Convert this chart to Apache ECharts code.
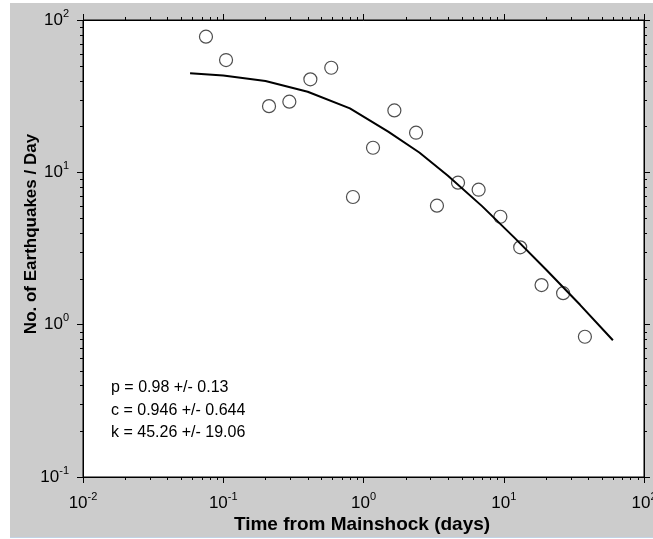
<!DOCTYPE html>
<html>
<head>
<meta charset="utf-8">
<script src="https://cdn.jsdelivr.net/npm/echarts@6/dist/echarts.min.js"></script>
<style>
html,body{margin:0;padding:0;background:#ffffff;}
#chart{width:653px;height:539px;}
</style>
</head>
<body>
<div id="chart"></div>
<script>
// Observed data (time in days, earthquakes per day)
const obsTime = [0.0753, 0.1047, 0.212, 0.296, 0.418, 0.589, 0.841, 1.169, 1.66, 2.37, 3.34, 4.72, 6.62, 9.46, 13.1, 18.6, 26.5, 37.9];
const obsRate = [77.7, 54.6, 27.2, 29.1, 40.8, 48.6, 6.89, 14.5, 25.5, 18.2, 6.04, 8.55, 7.69, 5.11, 3.22, 1.82, 1.61, 0.833];
// Fitted curve
const fitTime = [0.058, 0.1, 0.2, 0.4, 0.8, 1.5, 2.5, 4, 7, 12, 20, 35, 60];
const fitRate = [44.7, 43.2, 39.8, 33.8, 26.3, 18.5, 13.5, 9.5, 6.0, 3.7, 2.3, 1.35, 0.79];
// Tick labels
const xTickValues = [0.01, 0.1, 1, 10, 100];
const yTickValues = [0.1, 1, 10, 100];
const annotations = ['p = 0.98 +/- 0.13', 'c = 0.946 +/- 0.644', 'k = 45.26 +/- 19.06'];
const xTitle = 'Time from Mainshock (days)';
const yTitle = 'No. of Earthquakes / Day';

const xMinor = [], yMinor = [];
for (let k = -2; k <= 1; k++) for (let m = 2; m <= 9; m++) xMinor.push(+(m * Math.pow(10, k)).toPrecision(6));
for (let k = -1; k <= 1; k++) for (let m = 2; m <= 9; m++) yMinor.push(+(m * Math.pow(10, k)).toPrecision(6));

const FONT = 'Liberation Sans, Arial, sans-serif';
const rich = {
  b: {fontSize: 17, fontFamily: FONT, color: '#000', lineHeight: 18},
  s: {fontSize: 11, fontFamily: FONT, color: '#000', verticalAlign: 'bottom', padding: [0, 0, 10, 0], lineHeight: 11}
};
function expLabel(v) {
  const e = Math.round(Math.log10(v));
  return '{b|10}{s|' + e + '}';
}

const chart = echarts.init(document.getElementById('chart'), null, {renderer: 'canvas'});
const gridL = 83, gridT = 20, gridR = 9, gridB = 62;

const option = {
  backgroundColor: '#ffffff',
  animation: false,
  graphic: [
    {type: 'rect', z: -10, shape: {x: 10, y: 3, width: 643, height: 534}, style: {fill: '#cccccc'}, silent: true},
    {type: 'rect', z: -10, shape: {x: 10, y: 537, width: 643, height: 1}, style: {fill: '#c2d3e6'}, silent: true},
    {type: 'text', x: 362, y: 525, style: {text: xTitle, font: 'bold 19px ' + FONT, fill: '#000', align: 'center', verticalAlign: 'middle'}},
    {type: 'text', x: 31, y: 234, rotation: Math.PI / 2, style: {text: yTitle, font: 'bold 17px ' + FONT, fill: '#000', align: 'center', verticalAlign: 'middle'}},
    {type: 'text', x: 111, y: 388, style: {text: annotations[0], font: '16px ' + FONT, fill: '#000', verticalAlign: 'middle'}},
    {type: 'text', x: 111, y: 410.5, style: {text: annotations[1], font: '16px ' + FONT, fill: '#000', verticalAlign: 'middle'}},
    {type: 'text', x: 111, y: 433, style: {text: annotations[2], font: '16px ' + FONT, fill: '#000', verticalAlign: 'middle'}}
  ],
  grid: {left: gridL, top: gridT, right: gridR, bottom: gridB, show: true, backgroundColor: '#ffffff', borderColor: '#000', borderWidth: 1, containLabel: false, outerBoundsMode: 'none'},
  xAxis: [
    {type: 'log', logBase: 10, min: 0.01, max: 100, position: 'bottom',
     axisLine: {show: true, lineStyle: {color: '#000', width: 1}},
     axisTick: {show: true, inside: false, length: 6, lineStyle: {color: '#000'}},
     axisLabel: {show: true, margin: 17, formatter: expLabel, rich: rich, hideOverlap: false},
     splitLine: {show: false}},
    {type: 'log', logBase: 10, min: 0.01, max: 100, position: 'top',
     axisLine: {show: true, lineStyle: {color: '#000', width: 1}},
     axisTick: {show: true, inside: false, length: 6, lineStyle: {color: '#000'}},
     axisLabel: {show: false}, splitLine: {show: false}}
  ],
  yAxis: [
    {type: 'log', logBase: 10, min: 0.1, max: 100, position: 'left',
     axisLine: {show: true, lineStyle: {color: '#000', width: 1}},
     axisTick: {show: true, inside: false, length: 6, lineStyle: {color: '#000'}},
     axisLabel: {show: true, margin: 14, formatter: expLabel, rich: rich},
     splitLine: {show: false}},
    {type: 'log', logBase: 10, min: 0.1, max: 100, position: 'right',
     axisLine: {show: true, lineStyle: {color: '#000', width: 1}},
     axisTick: {show: true, inside: false, length: 6, lineStyle: {color: '#000'}},
     axisLabel: {show: false}, splitLine: {show: false}}
  ],
  series: [
    {type: 'custom', name: 'xminor', coordinateSystem: 'cartesian2d', xAxisIndex: 0, yAxisIndex: 0, clip: false, silent: true,
     data: xMinor.map(v => [v, 1]),
     renderItem: function (params, api) {
       const p = api.coord([api.value(0), 1]);
       const cs = params.coordSys;
       const x = Math.round(p[0]) + 0.5;
       const yb = cs.y + cs.height, yt = cs.y;
       return {type: 'group', children: [
         {type: 'line', shape: {x1: x, y1: yb, x2: x, y2: yb + 3}, style: {stroke: '#000', lineWidth: 1}},
         {type: 'line', shape: {x1: x, y1: yt, x2: x, y2: yt - 3}, style: {stroke: '#000', lineWidth: 1}}
       ]};
     }},
    {type: 'custom', name: 'yminor', coordinateSystem: 'cartesian2d', xAxisIndex: 0, yAxisIndex: 0, clip: false, silent: true,
     data: yMinor.map(v => [1, v]),
     renderItem: function (params, api) {
       const p = api.coord([1, api.value(1)]);
       const cs = params.coordSys;
       const y = Math.round(p[1]) + 0.5;
       const xl = cs.x, xr = cs.x + cs.width;
       return {type: 'group', children: [
         {type: 'line', shape: {x1: xl, y1: y, x2: xl - 3, y2: y}, style: {stroke: '#000', lineWidth: 1}},
         {type: 'line', shape: {x1: xr, y1: y, x2: xr + 3, y2: y}, style: {stroke: '#000', lineWidth: 1}}
       ]};
     }},
    {type: 'scatter', name: 'observed', xAxisIndex: 0, yAxisIndex: 0,
     data: obsTime.map((t, i) => [t, obsRate[i]]),
     symbol: 'circle', symbolSize: 13,
     itemStyle: {color: 'rgba(255,255,255,0)', borderColor: '#222', borderWidth: 1.2}, z: 3},
    {type: 'line', name: 'fit', xAxisIndex: 0, yAxisIndex: 0,
     data: fitTime.map((t, i) => [t, fitRate[i]]),
     showSymbol: false, symbol: 'none', smooth: false,
     lineStyle: {color: '#000', width: 2}, z: 4}
  ]
};
chart.setOption(option);
</script>
</body>
</html>
